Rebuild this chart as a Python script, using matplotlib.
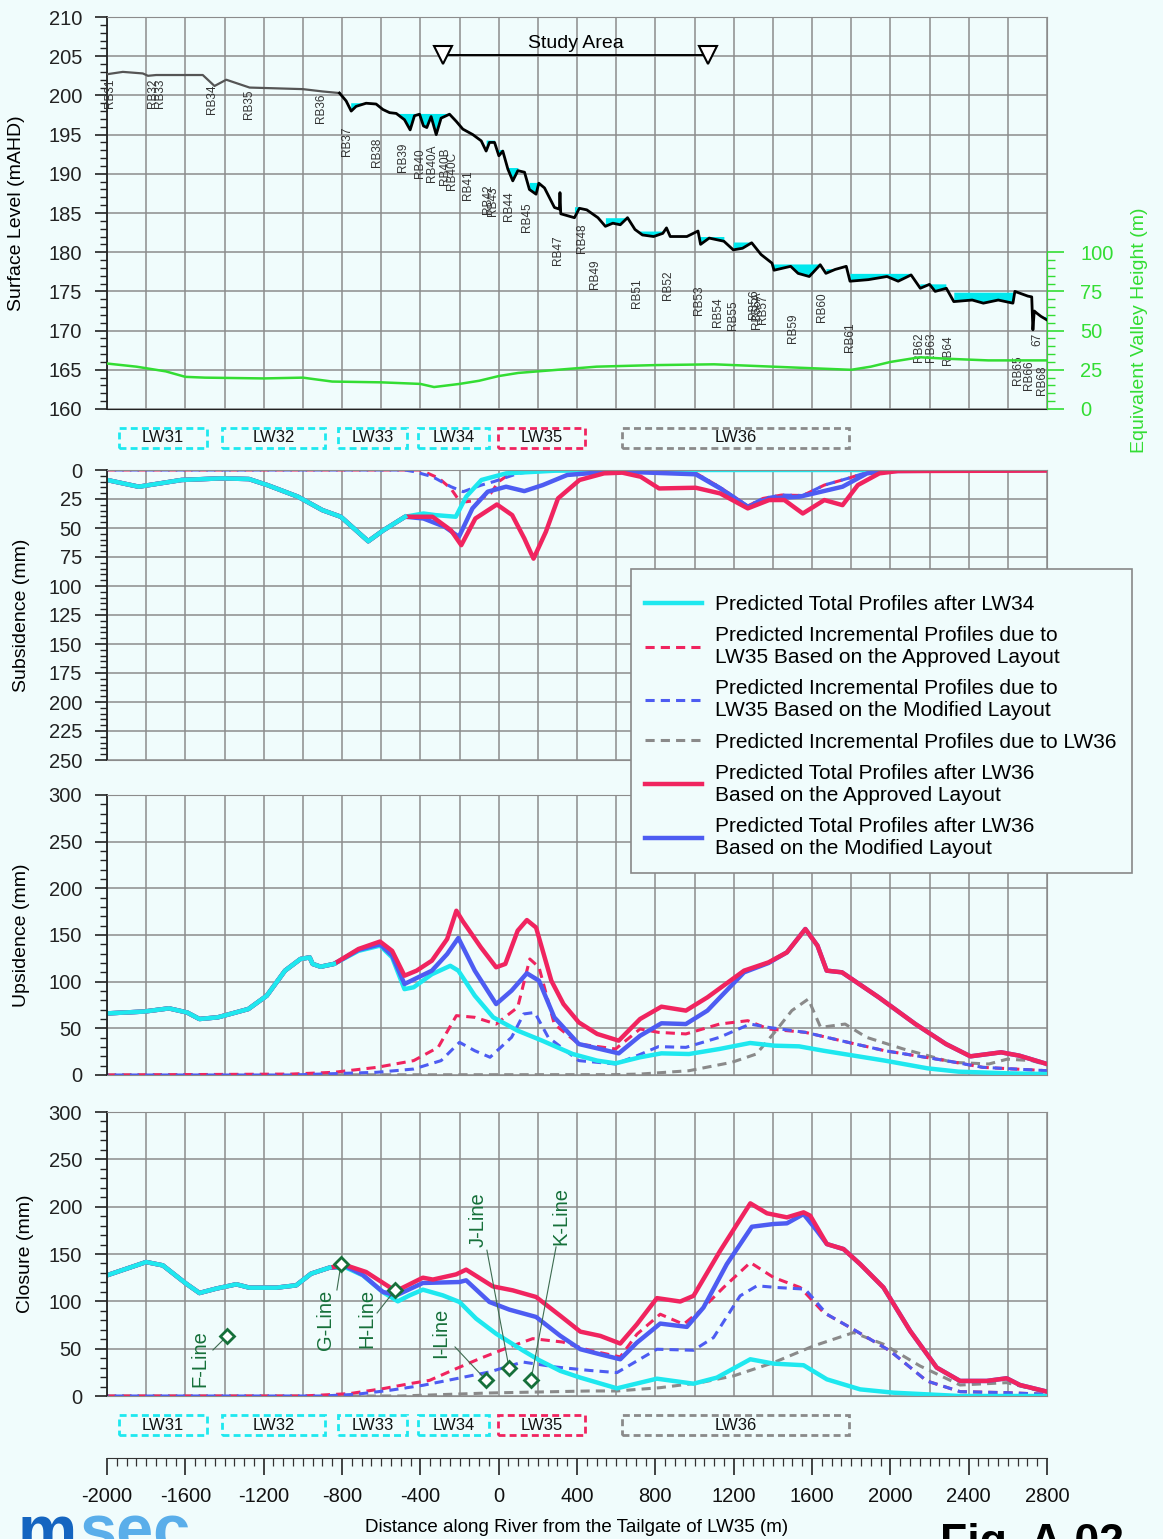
import numpy as np
import matplotlib.pyplot as plt
from matplotlib.patches import Rectangle
from matplotlib.lines import Line2D
from matplotlib.ticker import MultipleLocator, FixedLocator

plt.rcParams['font.family'] = ['Liberation Sans', 'DejaVu Sans']
plt.rcParams['axes.unicode_minus'] = False

BG = '#f0fcfc'
CYAN = '#1ee8ef'
RED = '#f0245f'
BLUE = '#4d5cf2'
GREY = '#8a8a8a'
GREEN = '#33dd33'
DKGREEN = '#16703a'
GRID = '#8c8c8c'

W, H = 1163, 1539

# ---------------- data ----------------
# surface level along river (m, mAHD)
surf_x = [-2000, -1919, -1817, -1791, -1749, -1511, -1451, -1391, -1272, -1000, -898, -813,
          -779, -753, -728, -677, -626, -591, -557, -523, -481, -452, -430, -404, -384, -367,
          -345, -319, -294, -251, -217, -183, -132, -89, -64, -47, -21, 1, 21, 47, 72, 98,
          132, 157, 191, 205, 234, 285, 310, 313, 317, 387, 412, 450, 507, 545, 583, 621,
          658, 696, 734, 791, 838, 857, 876, 961, 1018, 1031, 1075, 1150, 1198, 1245, 1292,
          1340, 1396, 1406, 1491, 1529, 1586, 1642, 1671, 1718, 1775, 1794, 1888, 1983, 2040,
          2106, 2153, 2200, 2229, 2286, 2324, 2418, 2475, 2551, 2626, 2636, 2702, 2722, 2728,
          2735, 2749, 2770, 2797]
surf_lvl = [202.7, 203.0, 202.8, 202.5, 202.6, 202.6, 201.2, 202.0, 201.0, 200.8, 200.5, 200.3,
            199.3, 198.0, 198.6, 199.0, 198.9, 198.2, 197.8, 197.7, 196.9, 195.6, 197.4, 197.6,
            196.1, 195.9, 197.3, 195.0, 197.1, 197.6, 196.7, 195.7, 195.0, 194.2, 192.9, 194.0,
            194.0, 192.3, 192.9, 190.6, 189.1, 190.4, 190.2, 188.0, 187.4, 188.8, 188.2, 185.7,
            185.5, 187.6, 184.9, 184.4, 185.6, 185.4, 184.4, 183.3, 183.7, 183.5, 184.4, 182.9,
            182.2, 182.0, 182.4, 183.1, 182.0, 182.0, 182.7, 181.0, 181.8, 181.4, 180.3, 180.5,
            181.2, 179.7, 178.6, 177.7, 178.2, 177.3, 176.9, 178.4, 177.3, 177.8, 178.2, 176.3,
            176.5, 176.9, 176.3, 177.1, 175.4, 175.9, 175.0, 175.4, 173.7, 173.9, 173.5, 173.9,
            173.5, 175.0, 174.4, 174.3, 170.1, 172.5, 172.2, 171.8, 171.4]

# pools (start, end, water level)
pool_x0 = [-775, -570, -85, -21, 47, 157, 318, 526, 696, 1018, 1198, 1396, 1652, 1794, 2153, 2305, 2749]
pool_x1 = [-626, -251, -21, 21, 98, 205, 412, 668, 848, 1188, 1292, 1642, 1775, 2106, 2286, 2626, 2797]
pool_lvl = [199.0, 197.7, 194.3, 193.1, 190.8, 188.9, 185.8, 184.4, 182.7, 182.0, 181.3, 178.5,
            177.9, 177.3, 175.9, 174.9, 171.8]

# equivalent valley height (m)
evh_x = [-2000, -1850, -1700, -1600, -1500, -1200, -1000, -850, -600, -400, -330, -200, -100, 0,
         100, 300, 500, 800, 1100, 1400, 1600, 1800, 1900, 2000, 2150, 2300, 2500, 2800]
evh = [29, 27, 24, 20.5, 20, 19.5, 20, 17.5, 17, 16, 14, 16, 18, 21, 23, 25, 27, 28, 28.5, 27,
       26, 25, 27, 30, 33, 32, 31, 31]

# river bed labels
rb_names = ['RB31', 'RB32', 'RB33', 'RB34', 'RB35', 'RB36', 'RB37', 'RB38', 'RB39', 'RB40',
            'RB40A', 'RB40B', 'RB40C', 'RB41', 'RB42', 'RB43', 'RB44', 'RB45', 'RB47', 'RB48',
            'RB49', 'RB51', 'RB52', 'RB53', 'RB54', 'RB55', 'RB56', 'RB56A', 'RB57', 'RB59',
            'RB60', 'RB61', 'RB62', 'RB63', 'RB64', 'RB65', 'RB66', '67', 'RB68']
rb_x = [-1985, -1765, -1729, -1464, -1275, -907, -774, -621, -488, -402, -340, -274, -238, -157,
        -54, -29, 53, 145, 303, 426, 492, 706, 865, 1023, 1120, 1197, 1304, 1319, 1350, 1503,
        1651, 1794, 2146, 2208, 2294, 2652, 2708, 2749, 2774]
rb_top = [202.2, 202.2, 202.2, 201.4, 200.7, 200.3, 196.0, 194.6, 194.0, 193.3, 193.7, 193.4,
          192.8, 190.5, 188.6, 188.4, 187.7, 186.4, 182.2, 183.7, 179.1, 176.6, 177.7, 175.8,
          174.2, 173.9, 175.2, 175.0, 174.6, 172.2, 174.9, 171.1, 169.7, 169.7, 169.4, 166.9,
          166.2, 169.7, 165.6]

study_x = [-284, 1069]

# longwall panels
lw_names = ['LW31', 'LW32', 'LW33', 'LW34', 'LW35', 'LW36']
lw_x0 = [-1939, -1413, -820, -412, -3, 630]
lw_x1 = [-1489, -887, -468, -49, 441, 1790]
lw_cols = [CYAN, CYAN, CYAN, CYAN, RED, GREY]

# subsidence (mm)
sub_cyan_x = [-2000, -1838, -1619, -1416, -1275, -1181, -1025, -900, -806, -666, -588, -478, -384,
              -322, -219, -166, -88, 38, 288, 800, 2800]
sub_cyan = [8.6, 14.4, 8.6, 7.2, 7.8, 13, 23, 34.6, 40.3, 61.4, 51.9, 40.3, 37.5, 38.9, 40.3, 23,
            8.6, 2.9, 0.6, 0, 0]
sub_blue_x = [-2000, -1838, -1619, -1416, -1275, -1181, -1025, -900, -806, -666, -588, -478, -384,
              -275, -203, -134, -56, 38, 131, 225, 350, 569, 725, 1006, 1131, 1272, 1381, 1538,
              1756, 1881, 1975, 2800]
sub_blue = [8.6, 14.4, 8.6, 7.2, 7.8, 13, 23, 34.6, 40.3, 61.4, 51.9, 40.3, 41.8, 49, 57.6, 33.1,
            18.7, 14.4, 18.2, 13, 4.3, 1.4, 2, 3.7, 15.9, 31.7, 24.5, 23, 14.4, 2.9, 0.9, 0]
sub_red_x = [-2000, -1838, -1619, -1416, -1275, -1181, -1025, -900, -806, -666, -588, -478, -338,
             -244, -191, -119, -9, 69, 131, 178, 241, 303, 413, 538, 631, 725, 819, 1006, 1131,
             1272, 1381, 1459, 1553, 1663, 1756, 1834, 1944, 2038, 2800]
sub_red = [8.6, 14.4, 8.6, 7.2, 7.8, 13, 23, 34.6, 40.3, 61.4, 51.9, 40.3, 40.3, 51.9, 64.8, 41.8,
           29.7, 38.9, 59, 76.4, 53.3, 24.5, 8.6, 2.9, 2.3, 5.8, 15.9, 15.3, 20.2, 33.1, 25.9,
           25.9, 37.5, 25.9, 30.3, 13, 2.9, 0.9, 0.5]
sub_redd_x = [-2000, -400, -306, -244, -203, -166, -103, -40, 0, 60, 150, 250, 900, 1000, 1131,
              1272, 1350, 1444, 1553, 1663, 1788, 1881, 1950, 2800]
sub_redd = [0, 0, 7, 16, 26, 27.4, 26, 20, 10, 3, 0.5, 0, 0, 2, 15, 31, 24.5, 21.6, 22, 13, 7, 2,
            0, 0]
sub_blued_x = [-2000, -480, -431, -338, -244, -181, -88, -25, 100, 200, 900, 1000, 1131, 1272,
               1350, 1444, 1553, 1663, 1788, 1881, 1950, 2800]
sub_blued = [0, 0, 1.4, 5.8, 14.4, 18.7, 13, 10, 2.9, 0.6, 0, 2, 15, 31, 24.5, 21.6, 22, 13, 7, 2,
             0, 0]

# upsidence (mm)
ups_cyan_x = [-2000, -1809, -1684, -1591, -1528, -1434, -1278, -1184, -1091, -1012, -965, -950,
              -909, -841, -716, -606, -544, -481, -434, -341, -247, -206, -122, -28, 97, 222, 378,
              503, 597, 722, 831, 972, 1128, 1284, 1409, 1534, 1659, 1972, 2191, 2347, 2597, 2800]
ups_cyan = [66, 68, 71.4, 67, 60, 61.8, 70.7, 85, 111.8, 124.3, 126, 119, 116, 119, 133, 138.6,
            126, 92, 94, 108, 117, 111.8, 85, 61.8, 47.5, 36.8, 22.5, 15.4, 12.5, 19, 23.2, 22.5,
            27.9, 34.3, 31.4, 30.7, 26, 15.4, 7.1, 3.6, 1.8, 1]
ups_red_x = [-2000, -1809, -1684, -1591, -1528, -1434, -1278, -1184, -1091, -1012, -965, -950,
             -909, -841, -716, -606, -544, -481, -419, -341, -263, -216, -184, -91, -13, 34, 97,
             144, 191, 269, 331, 409, 503, 613, 722, 831, 956, 1066, 1253, 1378, 1472, 1566, 1628,
             1675, 1753, 1941, 2128, 2284, 2409, 2566, 2659, 2800]
ups_red = [66, 68, 71.4, 67, 60, 61.8, 70.7, 85, 111.8, 124.3, 126, 119, 116, 119, 135, 143, 133,
           106.4, 111.8, 122.5, 145.7, 176, 165, 136.8, 115.4, 119, 154.6, 166, 158, 101, 76, 56.4,
           44, 36.8, 60, 73.2, 69, 83.2, 111.8, 120.7, 131.4, 156.4, 138.6, 111.8, 110, 83.2, 54.6,
           33.2, 20, 24.3, 20.7, 11.8]
ups_blue_x = [-2000, -1809, -1684, -1591, -1528, -1434, -1278, -1184, -1091, -1012, -965, -950,
              -909, -841, -716, -606, -544, -481, -341, -263, -206, -122, -13, 66, 144, 206, 284,
              409, 613, 722, 831, 956, 1066, 1253, 1378, 1472, 1566, 1628, 1675, 1753, 1941, 2128,
              2284, 2409, 2566, 2659, 2800]
ups_blue = [66, 68, 71.4, 67, 60, 61.8, 70.7, 85, 111.8, 124.3, 126, 119, 116, 119, 134, 140, 128,
            97.5, 111.8, 129.6, 146.8, 111.8, 76, 90.4, 109, 101, 61.8, 33.2, 23.2, 42, 55.4, 54.6,
            69, 110, 120, 131.4, 156.4, 138.6, 111.8, 110, 83.2, 54.6, 33.2, 20, 24.3, 20.7, 11.8]
ups_redd_x = [-2000, -1059, -841, -622, -434, -309, -216, -122, -13, 97, 159, 206, 284, 409, 597,
              722, 816, 956, 1128, 1272, 1378, 1566, 1784, 1972, 2284, 2472, 2800]
ups_redd = [0, 1, 2.9, 8.2, 15.4, 29.6, 63.6, 61.8, 54.6, 72.5, 124.3, 115.4, 54.6, 33.2, 27.9,
            49.3, 45.7, 44, 54.6, 58.2, 49.3, 45.7, 35, 26, 15.4, 8.2, 4.6]
ups_blued_x = [-2000, -1059, -622, -434, -294, -200, -122, -44, 66, 128, 184, 253, 409, 597, 722,
               816, 956, 1128, 1284, 1378, 1566, 1784, 1972, 2284, 2472, 2800]
ups_blued = [0, 0, 2.9, 6.4, 15.4, 35, 26, 19, 40.4, 65.4, 67, 40.4, 15.4, 11.8, 22, 30.4, 29.6,
             40.4, 54.6, 51, 45.7, 35, 26, 15.4, 8.2, 4.6]
ups_grey_x = [-2000, 597, 722, 972, 1191, 1316, 1409, 1497, 1581, 1644, 1769, 1878, 2066, 2316,
              2503, 2597, 2722, 2800]
ups_grey = [0, 0.4, 1, 4.6, 13.6, 22.5, 45.7, 69, 81.4, 51, 54.6, 40.4, 27.9, 13.6, 11.8, 17,
            15.4, 10.7]

# closure (mm)
clo_cyan_x = [-2000, -1800, -1715, -1596, -1528, -1443, -1340, -1272, -1136, -1034, -958, -864,
              -779, -694, -592, -515, -455, -387, -285, -200, -115, -13, 123, 208, 315, 417, 604,
              808, 995, 1114, 1285, 1404, 1557, 1676, 1846, 2016, 2356, 2800]
clo_cyan = [127.5, 141.5, 138, 118.7, 108.8, 113.4, 118, 114.4, 114.4, 116.9, 129.2, 135.6, 135.6,
            127.5, 109.9, 100, 106.3, 112.3, 106.3, 99.3, 81.7, 65.8, 48.2, 37.7, 26.5, 19.4, 8.1,
            18.3, 13, 19.4, 38.8, 34.2, 32.5, 17.6, 7, 3.5, 0, 0]
clo_red_x = [-2000, -1800, -1715, -1596, -1528, -1443, -1340, -1272, -1136, -1034, -958, -864,
             -779, -677, -557, -523, -387, -336, -217, -166, -30, 72, 191, 315, 417, 519, 621, 706,
             808, 927, 995, 1131, 1285, 1370, 1472, 1557, 1591, 1676, 1761, 1846, 1965, 2101, 2237,
             2356, 2492, 2594, 2662, 2800]
clo_red = [127.5, 141.5, 138, 118.7, 108.8, 113.4, 118, 114.4, 114.4, 116.9, 129.2, 135.6, 138,
           131, 115, 111, 125, 123, 128.5, 133.5, 115.8, 111.6, 104.6, 84.7, 68, 63.5, 55.4, 75.8,
           103.4, 99.8, 105.8, 153.4, 203.5, 193, 188.7, 194, 190.5, 160.5, 155.2, 139.3, 114.6,
           68.8, 30, 15.9, 15.9, 18.7, 11.6, 4.6]
clo_blue_x = [-2000, -1800, -1715, -1596, -1528, -1443, -1340, -1272, -1136, -1034, -958, -864,
              -779, -694, -592, -523, -387, -200, -166, -47, 55, 191, 315, 417, 519, 621, 706, 825,
              961, 1046, 1165, 1293, 1404, 1472, 1557, 1625, 1676, 1761, 1846, 1965, 2101, 2237,
              2356, 2492, 2594, 2662, 2800]
clo_blue = [127.5, 141.5, 138, 118.7, 108.8, 113.4, 118, 114.4, 114.4, 116.9, 129.2, 135.6, 137,
            128, 110, 106.3, 119.4, 120.4, 122.2, 99.3, 91.2, 83.5, 63.5, 49.4, 44, 38.8, 56.4,
            76.5, 73, 93.5, 139.3, 178.8, 181.7, 182.4, 192.2, 174.6, 160.5, 155.2, 139.3, 114.6,
            68.8, 30, 15.9, 15.9, 18.7, 11.6, 4.6]
clo_redd_x = [-2000, -1000, -762, -592, -455, -353, -217, -98, 55, 174, 327, 464, 621, 706, 825,
              944, 1029, 1148, 1285, 1404, 1540, 1659, 1795, 1999, 2186, 2356, 2594, 2800]
clo_redd = [0, 0, 2.5, 7.7, 13, 16.5, 28.9, 39.4, 51.8, 60.6, 57, 48.2, 41.3, 65.3, 86.4, 75.8,
            90, 114.6, 141, 125.2, 114.6, 88.2, 72.3, 47.6, 15.9, 4.6, 3.5, 1.8]
clo_blued_x = [-2000, -900, -728, -557, -387, -217, -47, 123, 293, 464, 604, 808, 995, 1097, 1233,
               1319, 1421, 1565, 1676, 1795, 1999, 2186, 2356, 2594, 2800]
clo_blued = [0, 0, 1.8, 6, 11.3, 18.3, 25.4, 35.9, 30.6, 27, 24.7, 49.4, 48.3, 61.7, 105.8, 116.4,
             114.6, 112.9, 86.4, 72.3, 47.6, 15.9, 4.6, 3.5, 1.8]
clo_grey_x = [-2000, -500, -47, 464, 604, 825, 1029, 1199, 1404, 1608, 1812, 1965, 2152, 2356,
              2594, 2800]
clo_grey = [0, 0, 3.2, 5.3, 5.3, 8.8, 14.1, 21.2, 35.3, 52.9, 67, 54.7, 31.7, 11.6, 14.1, 3.5]

# cross-section lines (closure panel)
xs_names = ['F-Line', 'G-Line', 'H-Line', 'I-Line', 'J-Line', 'K-Line']
xs_x = [-1387, -805, -529, -65, 53, 165]
xs_c = [63.4, 139.4, 112, 17, 29.6, 17]
xs_lab_x = [-1525, -882, -672, -295, -105, 318]
xs_lab_c = [9.5, 48.6, 50.7, 40.1, 157.4, 159.5]
xs_lead_x = [-1459, -826, -621, -223, -60, 293]
xs_lead_c = [48.6, 112, 87.7, 51.8, 154, 157.4]


# ---------------- layout ----------------
def px_box(left, top, right, bottom):
    return [left / W, 1 - bottom / H, (right - left) / W, (bottom - top) / H]


fig = plt.figure(figsize=(W / 100, H / 100), dpi=100, facecolor=BG)


def style_panel(ax, lo, hi, major, minor):
    ax.set_facecolor(BG)
    ax.set_xlim(-2000, 2800)
    ax.set_ylim(lo, hi)
    ax.xaxis.set_major_locator(MultipleLocator(200))
    ax.yaxis.set_major_locator(MultipleLocator(major))
    ax.yaxis.set_minor_locator(MultipleLocator(minor))
    ax.grid(True, which='major', color=GRID, lw=1.1)
    ax.set_axisbelow(True)
    ax.tick_params(axis='x', length=0, labelbottom=False)
    ax.tick_params(axis='y', which='major', length=9, width=1.2, pad=9, labelsize=14.5,
                   direction='out', colors='#222')
    ax.tick_params(axis='y', which='minor', length=5, width=1, colors='#222')
    for s in ['top', 'right', 'bottom']:
        ax.spines[s].set_color(GRID)
    ax.spines['left'].set_color('#222')
    ax.spines['left'].set_linewidth(1.3)


# surface panel
ax1 = fig.add_axes(px_box(107, 17, 1047, 409))
style_panel(ax1, 160, 210, 5, 1)
ax1.spines['bottom'].set_color('#222')
sx = np.array(surf_x)
sl = np.array(surf_lvl)
for a, b, lv in zip(pool_x0, pool_x1, pool_lvl):
    m = (sx >= a) & (sx <= b)
    ax1.fill_between(sx[m], sl[m], lv, where=sl[m] < lv, interpolate=True,
                     color='#00e8ee', lw=0, zorder=2)
left = sx <= -800
ax1.plot(sx[left], sl[left], color='#555555', lw=1.6, zorder=3)
ax1.plot(sx[sx >= -813], sl[sx >= -813], color='black', lw=2.0, zorder=3)
for n, x, t in zip(rb_names, rb_x, rb_top):
    ax1.text(x, t, n, rotation=90, ha='center', va='top', fontsize=8.5, color='#333', zorder=4)
ax1.plot(study_x, [205.1, 205.1], color='black', lw=1.4, zorder=4)
ax1.plot(study_x, [205.1, 205.1], ls='none', marker='v', ms=13, mfc='white', mec='black',
         mew=1.5, zorder=5)
ax1.text(sum(study_x) / 2, 205.5, 'Study Area', ha='center', va='bottom', fontsize=14)

axr = ax1.twinx()
axr.set_ylim(0, 250)
axr.yaxis.set_major_locator(FixedLocator([0, 25, 50, 75, 100]))
axr.yaxis.set_minor_locator(FixedLocator(list(range(0, 101, 5))))
axr.tick_params(axis='y', which='major', length=12, width=1.2, pad=12, labelsize=14.5,
                colors=GREEN)
axr.tick_params(axis='y', which='minor', length=6, width=1, colors=GREEN)
for s in ['top', 'left', 'bottom']:
    axr.spines[s].set_visible(False)
axr.spines['right'].set_bounds(0, 100)
axr.spines['right'].set_color(GREEN)
axr.plot(evh_x, evh, color=GREEN, lw=1.8)

# subsidence
ax2 = fig.add_axes(px_box(107, 470, 1047, 760))
style_panel(ax2, 250, 0, 25, 5)
dash = (0, (3, 2))
dash2 = (2.5, (3, 2))
ax2.plot(sub_redd_x, sub_redd, color=RED, lw=2.2, ls=dash)
ax2.plot(sub_blued_x, sub_blued, color=BLUE, lw=2.2, ls=dash2)
ax2.plot(sub_cyan_x, sub_cyan, color=CYAN, lw=3.2)
ax2.plot(sub_blue_x, sub_blue, color=BLUE, lw=3.2)
ax2.plot(sub_red_x, sub_red, color=RED, lw=3.2)
ax2.plot(sub_cyan_x[:12], sub_cyan[:12], color=CYAN, lw=3.2)

# upsidence
ax3 = fig.add_axes(px_box(107, 795, 1047, 1075))
style_panel(ax3, 0, 300, 50, 10)
ax3.plot(ups_grey_x, ups_grey, color=GREY, lw=2.2, ls=dash)
ax3.plot(ups_redd_x, ups_redd, color=RED, lw=2.2, ls=dash)
ax3.plot(ups_blued_x, ups_blued, color=BLUE, lw=2.2, ls=dash2)
ax3.plot(ups_cyan_x, ups_cyan, color=CYAN, lw=3.2)
ax3.plot(ups_blue_x, ups_blue, color=BLUE, lw=3.2)
ax3.plot(ups_red_x, ups_red, color=RED, lw=3.2)
ax3.plot(ups_cyan_x[:14], ups_cyan[:14], color=CYAN, lw=3.2)

# closure
ax4 = fig.add_axes(px_box(107, 1112, 1047, 1396))
style_panel(ax4, 0, 300, 50, 10)
ax4.plot(clo_grey_x, clo_grey, color=GREY, lw=2.2, ls=dash)
ax4.plot(clo_redd_x, clo_redd, color=RED, lw=2.2, ls=dash)
ax4.plot(clo_blued_x, clo_blued, color=BLUE, lw=2.2, ls=dash2)
ax4.plot(clo_cyan_x, clo_cyan, color=CYAN, lw=3.2)
ax4.plot(clo_blue_x, clo_blue, color=BLUE, lw=3.2)
ax4.plot(clo_red_x, clo_red, color=RED, lw=3.2)
ax4.plot(clo_cyan_x[:12], clo_cyan[:12], color=CYAN, lw=3.2)
for n, x, c, lx, lc, tx, tc in zip(xs_names, xs_x, xs_c, xs_lead_x, xs_lead_c, xs_lab_x, xs_lab_c):
    ax4.plot([lx, x], [lc, c], color='#3d6b50', lw=0.8, zorder=5)
    ax4.plot(x, c, marker='D', ms=7, mfc='white', mec=DKGREEN, mew=2, zorder=6)
    ax4.text(tx, tc, n, rotation=90, ha='center', va='bottom', fontsize=14.5, color=DKGREEN,
             zorder=6)

# longwall boxes
for top, bottom in [(424, 452), (1411, 1439)]:
    axl = fig.add_axes(px_box(107, top, 1047, bottom))
    axl.set_xlim(-2000, 2800)
    axl.set_ylim(0, 1)
    axl.axis('off')
    for n, a, b, col in zip(lw_names, lw_x0, lw_x1, lw_cols):
        axl.add_patch(Rectangle((a, 0.14), b - a, 0.72, fill=False, ec=col, lw=2,
                                ls=(0, (2.5, 1.5))))
        axl.text((a + b) / 2, 0.5, n, ha='center', va='center', fontsize=12, color='#111')

# bottom distance axis
ax5 = fig.add_axes(px_box(107, 1450, 1047, 1458))
ax5.set_facecolor('none')
ax5.set_xlim(-2000, 2800)
ax5.set_yticks([])
for s in ['top', 'left', 'right']:
    ax5.spines[s].set_visible(False)
ax5.spines['bottom'].set_color('#333')
ax5.xaxis.set_major_locator(MultipleLocator(400))
ax5.xaxis.set_minor_locator(MultipleLocator(50))
ax5.tick_params(axis='x', which='major', length=12, width=1.1, pad=9, labelsize=14.5,
                colors='#111')
ax5.tick_params(axis='x', which='minor', length=6, width=0.9, colors='#333')

# legend (frame drawn separately so the padding matches the original box)
frame = Rectangle((631 / W, 1 - 873 / H), (1132 - 631) / W, (873 - 569) / H,
                  transform=fig.transFigure, facecolor=BG, edgecolor='#888', lw=1.2, zorder=4)
fig.add_artist(frame)
handles = [Line2D([], [], color=CYAN, lw=3.2),
           Line2D([], [], color=RED, lw=2.2, ls=dash),
           Line2D([], [], color=BLUE, lw=2.2, ls=dash),
           Line2D([], [], color=GREY, lw=2.2, ls=dash),
           Line2D([], [], color=RED, lw=3.2),
           Line2D([], [], color=BLUE, lw=3.2)]
labels = ['Predicted Total Profiles after LW34',
          'Predicted Incremental Profiles due to\nLW35 Based on the Approved Layout',
          'Predicted Incremental Profiles due to\nLW35 Based on the Modified Layout',
          'Predicted Incremental Profiles due to LW36',
          'Predicted Total Profiles after LW36\nBased on the Approved Layout',
          'Predicted Total Profiles after LW36\nBased on the Modified Layout']
leg = fig.legend(handles, labels, loc='upper left', bbox_to_anchor=(645 / W, 1 - 595 / H),
                 borderaxespad=0, borderpad=0, fontsize=15, handlelength=2.75,
                 handletextpad=0.62, labelspacing=0.58, frameon=False)
leg.set_zorder(5)
for t in leg.get_texts():
    t.set_linespacing(1.21)

# axis titles
fig.text(17 / W, 1 - 213 / H, 'Surface Level (mAHD)', rotation=90, ha='center', va='center',
         fontsize=14)
fig.text(22 / W, 1 - 615 / H, 'Subsidence (mm)', rotation=90, ha='center', va='center',
         fontsize=14)
fig.text(22 / W, 1 - 935 / H, 'Upsidence (mm)', rotation=90, ha='center', va='center',
         fontsize=14)
fig.text(25 / W, 1 - 1254 / H, 'Closure (mm)', rotation=90, ha='center', va='center',
         fontsize=14)
fig.text(1140 / W, 1 - 330 / H, 'Equivalent Valley Height (m)', rotation=90, ha='center',
         va='center', fontsize=14, color=GREEN)
fig.text(577 / W, 1 - 1528 / H, 'Distance along River from the Tailgate of LW35 (m)',
         ha='center', va='center', fontsize=13.5)

# logo and figure number (cut off at the bottom edge)
fig.text(18 / W, 1 - 1552 / H, 'm', fontsize=48, fontweight='bold', color='#1565c0',
         va='baseline')
fig.text(80 / W, 1 - 1552 / H, 'sec', fontsize=48, fontweight='bold', color='#5aaeea',
         va='baseline')
fig.text(940 / W, 1 - 1555 / H, 'Fig. A.02', fontsize=32, fontweight='bold', color='black',
         va='baseline')

fig.savefig('out.png', dpi=100, facecolor=BG)
